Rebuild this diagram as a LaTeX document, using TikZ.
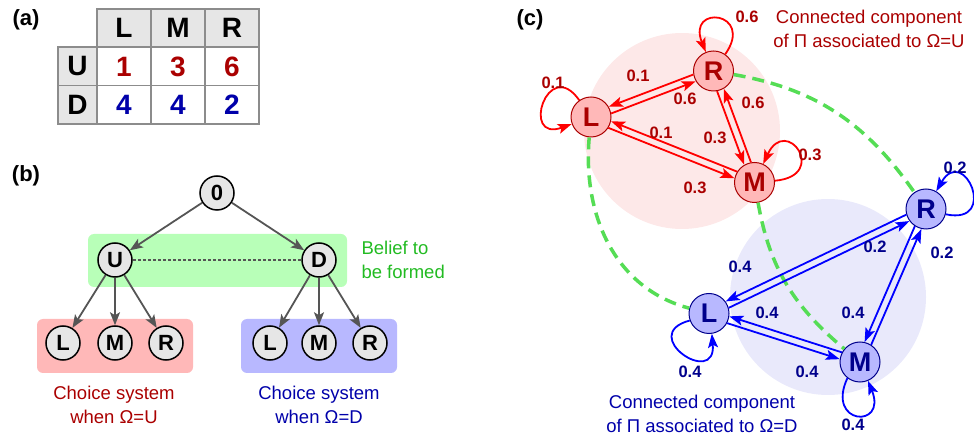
\documentclass[tikz,border=0pt]{standalone}
\usepackage{fontspec}
\setmainfont{Liberation Sans}
\usetikzlibrary{arrows.meta}
\definecolor{cellgray}{HTML}{E6E6E6}
\definecolor{linegray}{HTML}{8C8C8C}
\definecolor{arrowgray}{HTML}{555555}
\definecolor{darkred}{HTML}{AA0000}
\definecolor{darkblue}{HTML}{0000AA}
\definecolor{navy}{HTML}{00008C}
\definecolor{beliefgreen}{HTML}{22BB22}
\definecolor{arcgreen}{HTML}{55DD55}
\definecolor{greenfill}{HTML}{B8FFB8}
\definecolor{redfill}{HTML}{FFB8B8}
\definecolor{bluefill}{HTML}{B8B8FF}
\definecolor{redhalo}{HTML}{FDE8E8}
\definecolor{bluehalo}{HTML}{E9E9FB}
\begin{document}
\begin{tikzpicture}[x=1pt, y=1pt,
        panel/.style={font=\fontsize{22}{26}\selectfont\bfseries},
        cell/.style={draw=linegray, line width=1.6pt},
        tabtext/.style={font=\fontsize{28}{30}\selectfont\bfseries},
        treenode/.style={circle, draw=black, line width=1.5pt, fill=cellgray, minimum size=34pt, inner sep=0pt, font=\fontsize{22}{22}\selectfont\bfseries},
        treearrow/.style={draw=arrowgray, line width=1.8pt, -{Stealth[length=13pt, width=10pt, inset=3pt]}},
        caption/.style={align=center, font=\fontsize{18.5}{24}\selectfont},
        rednode/.style={circle, draw=darkred, fill=redfill, line width=1pt, minimum size=40pt, inner sep=0pt, text=darkred, font=\fontsize{27}{27}\selectfont\bfseries},
        bluenode/.style={circle, draw=navy, fill=bluefill, line width=1pt, minimum size=40pt, inner sep=0pt, text=navy, font=\fontsize{27}{27}\selectfont\bfseries},
        redarrow/.style={draw=red, line width=1.8pt, -{Stealth[length=14pt, width=10pt, inset=3pt]}},
        bluearrow/.style={draw=blue, line width=1.8pt, -{Stealth[length=14pt, width=10pt, inset=3pt]}},
        redlabel/.style={text=darkred, font=\fontsize{16.5}{17}\selectfont\bfseries},
        bluelabel/.style={text=navy, font=\fontsize{16.5}{17}\selectfont\bfseries},
        beliefarc/.style={draw=arcgreen, line width=3.5pt, dash pattern=on 12pt off 7pt}]
    \useasboundingbox (0,0) rectangle (974,439);

    % (a)
    \node[panel] (pa) at (26,419) {(a)};
    \foreach \c in {0,1,2}
        \draw[cell, fill=cellgray] ({97+54*\c},391.7) rectangle +(54,38);
    \foreach \r in {0,1}
        \draw[cell, fill=cellgray] (58,{315+38.35*\r}) rectangle +(39,38.35);
    \foreach \c in {0,1,2}
        \foreach \r in {0,1}
            \draw[cell, fill=white] ({97+54*\c},{315+38.35*\r}) rectangle +(54,38.35);
    \node[tabtext] (hL) at (124,410.7) {L};
    \node[tabtext] (hM) at (178,410.7) {M};
    \node[tabtext] (hR) at (232,410.7) {R};
    \node[tabtext] (hU) at (77.5,372.5) {U};
    \node[tabtext] (hD) at (77.5,334.2) {D};
    \node[tabtext, text=darkred] (pUL) at (124,372.5) {1};
    \node[tabtext, text=darkred] (pUM) at (178,372.5) {3};
    \node[tabtext, text=darkred] (pUR) at (232,372.5) {6};
    \node[tabtext, text=darkblue] (pDL) at (124,334.2) {4};
    \node[tabtext, text=darkblue] (pDM) at (178,334.2) {4};
    \node[tabtext, text=darkblue] (pDR) at (232,334.2) {2};

    % (b)
    \node[panel] (pb) at (26,263) {(b)};
    \fill[greenfill, rounded corners=6pt] (88,152) rectangle (347,205);
    \fill[redfill, rounded corners=6pt] (37,66) rectangle (193,120);
    \fill[bluefill, rounded corners=6pt] (241,66) rectangle (397,120);
    \node[treenode] (root) at (217,246) {0};
    \node[treenode] (bU) at (115,179) {U};
    \node[treenode] (bD) at (319,179) {D};
    \node[treenode] (bUL) at (63,96) {L};
    \node[treenode] (bUM) at (115,96) {M};
    \node[treenode] (bUR) at (166,96) {R};
    \node[treenode] (bDL) at (270,96) {L};
    \node[treenode] (bDM) at (319,96) {M};
    \node[treenode] (bDR) at (370,96) {R};
    \draw[treearrow] (root) -- (bU);
    \draw[treearrow] (root) -- (bD);
    \foreach \x in {UL,UM,UR}
        \draw[treearrow] (bU) -- (b\x);
    \foreach \x in {DL,DM,DR}
        \draw[treearrow] (bD) -- (b\x);
    \draw[arrowgray, line width=1.2pt, dash pattern=on 3pt off 2pt] (bU) -- (bD);
    \node[caption, align=left, anchor=west, text=beliefgreen] (belief) at (358,179) {Belief to\\be formed};
    \node[caption, text=darkred] (capU) at (114,34) {Choice system\\when Ω=U};
    \node[caption, text=darkblue] (capD) at (319,34) {Choice system\\when Ω=D};

    % (c)
    \node[panel] (pc) at (530,419) {(c)};
    \fill[redhalo] (682,308) circle (98);
    \fill[bluehalo] (828,142) circle (98);
    \node[rednode] (uR) at (713.5,368) {R};
    \node[rednode] (uL) at (591,322) {L};
    \node[rednode] (uM) at (754.5,256.5) {M};
    \node[bluenode] (dR) at (926,230) {R};
    \node[bluenode] (dL) at (709,125.5) {L};
    \node[bluenode] (dM) at (860,77) {M};
    \draw[beliefarc] (uR) to[out=-10, in=125] (dR);
    \draw[beliefarc] (uL) to[out=265, in=165] (dL);
    \draw[beliefarc] (uM) to[out=280, in=140] (dM);

    \draw[redarrow] (uR.190) -- (uL.30);
    \draw[redarrow] (uL.10) -- (uR.210);
    \draw[redarrow] (uM.148) -- (uL.348);
    \draw[redarrow] (uL.328) -- (uM.168);
    \draw[redarrow] (uR.280) -- (uM.120);
    \draw[redarrow] (uM.100) -- (uR.300);
    \draw[redarrow] (uL.125) to[out=125, in=200, distance=55pt] (uL.200);
    \draw[redarrow] (uR.55) to[out=55, in=112, distance=52pt] (uR.112);
    \draw[redarrow] (uM.5) to[out=5, in=65, distance=55pt] (uM.65);

    \draw[bluearrow] (dR.196) -- (dL.36);
    \draw[bluearrow] (dL.16) -- (dR.216);
    \draw[bluearrow] (dM.152) -- (dL.352);
    \draw[bluearrow] (dL.332) -- (dM.172);
    \draw[bluearrow] (dR.237) -- (dM.77);
    \draw[bluearrow] (dM.57) -- (dR.257);
    \draw[bluearrow] (dR.-15) to[out=-12, in=60, distance=55pt] (dR.60);
    \draw[bluearrow] (dL.200) to[out=195, in=275, distance=55pt] (dL.278);
    \draw[bluearrow] (dM.232) to[out=245, in=292, distance=52pt] (dM.293);

    \node[redlabel] (u-rl) at (638,363) {0.1};
    \node[redlabel] (u-lr) at (685,340) {0.6};
    \node[redlabel] (u-ml) at (661,306) {0.1};
    \node[redlabel] (u-lm) at (695,251) {0.3};
    \node[redlabel] (u-rm) at (715,301) {0.3};
    \node[redlabel] (u-mr) at (753,336) {0.6};
    \node[redlabel] (u-ll) at (553,356) {0.1};
    \node[redlabel] (u-rr) at (747,422) {0.6};
    \node[redlabel] (u-mm) at (810,284) {0.3};
    \node[bluelabel] (d-rl) at (740,172) {0.4};
    \node[bluelabel] (d-lr) at (875,192) {0.2};
    \node[bluelabel] (d-ml) at (767,126) {0.4};
    \node[bluelabel] (d-lm) at (807,67) {0.4};
    \node[bluelabel] (d-rm) at (853,126) {0.4};
    \node[bluelabel] (d-mr) at (942,186) {0.2};
    \node[bluelabel] (d-rr) at (955,271) {0.2};
    \node[bluelabel] (d-ll) at (690,67) {0.4};
    \node[bluelabel] (d-mm) at (853,14) {0.4};

    \node[caption, text=darkred] (compU) at (869,410) {Connected component\\of Π associated to Ω=U};
    \node[caption, text=darkblue] (compD) at (702,25) {Connected component\\of Π associated to Ω=D};
\end{tikzpicture}
\end{document}
